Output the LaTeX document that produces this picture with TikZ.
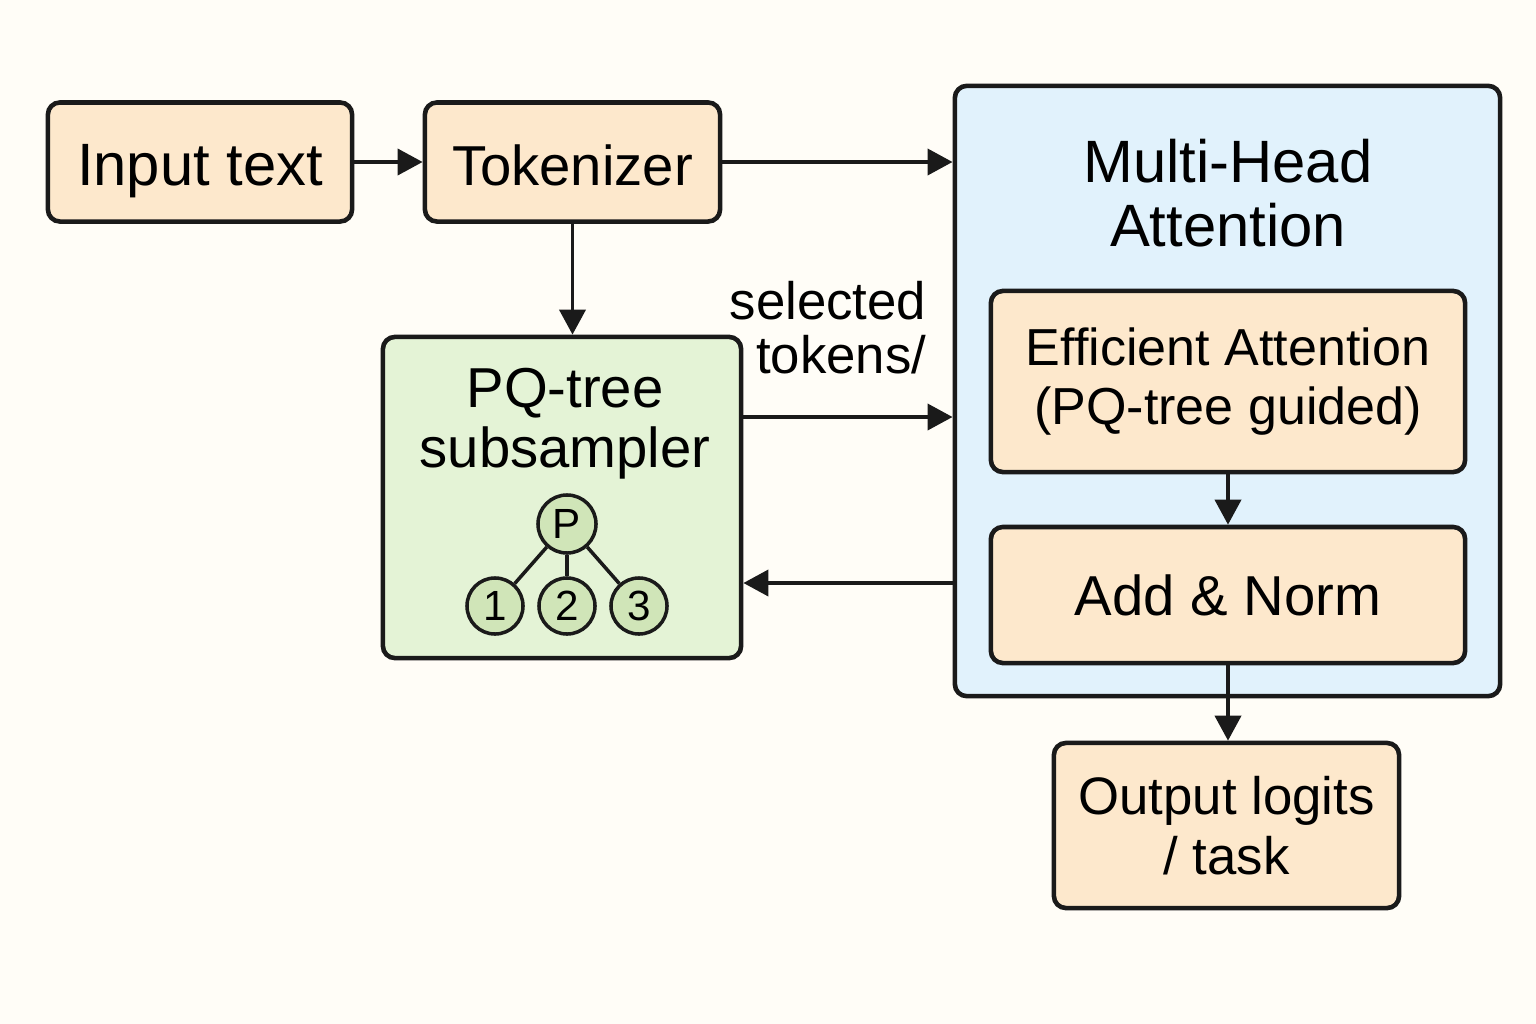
\documentclass[tikz,border=0pt]{standalone}
\usepackage{fontspec}
\setmainfont{Liberation Sans}
\usepackage{xcolor}
\usepackage{tikz}
\usetikzlibrary{arrows.meta, calc}
\definecolor{bgcream}{HTML}{FFFDF7}
\definecolor{boxorange}{HTML}{FDE8CC}
\definecolor{boxgreen}{HTML}{E4F3D6}
\definecolor{boxblue}{HTML}{E1F2FC}
\definecolor{nodegreen}{HTML}{D0E5B8}
\definecolor{ink}{HTML}{1A1A1A}

\begin{document}
\begin{tikzpicture}[x=0.01cm, y=-0.01cm,
        block/.style={draw=ink, line width=1.3pt, rounded corners=0.12cm, align=center, inner sep=0pt},
        orange/.style={block, fill=boxorange},
        oneline/.style={orange, text height=0.6cm, text depth=0.14cm},
        treenode/.style={circle, draw=ink, line width=1pt, fill=nodegreen, inner sep=0pt,
            minimum size=0.56cm, font=\fontsize{12}{13}\selectfont},
        flow/.style={draw=ink, line width=1.1pt, -{Triangle[length=0.25cm, width=0.26cm]}}]
    \fill[bgcream] (0,0) rectangle (1536,1024);
    \useasboundingbox (0,0) rectangle (1536,1024);
        \node[oneline, minimum width=3.04cm, minimum height=1.19cm, font=\fontsize{17}{19}\selectfont]
            (inp) at (200,162) {Input text};
        \node[oneline, minimum width=2.95cm, minimum height=1.19cm, font=\fontsize{16}{19}\selectfont]
            (tok) at (572.5,162) {Tokenizer};
        \node[block, fill=boxblue, minimum width=5.45cm, minimum height=6.10cm]
            (mha) at (1227.5,391) {};
        \node[align=center, font=\fontsize{17}{18.2}\selectfont] (mhatitle) at (1228,193) {Multi-Head\\Attention};
        \node[orange, minimum width=4.74cm, minimum height=1.81cm, font=\fontsize{14.8}{17}\selectfont]
            (eff) at (1228,381.5) {Efficient Attention\\(PQ-tree guided)};
        \node[orange, minimum width=4.74cm, minimum height=1.36cm, font=\fontsize{16}{18}\selectfont]
            (add) at (1228,595) {Add \& Norm};
        \node[orange, minimum width=3.45cm, minimum height=1.65cm, font=\fontsize{15}{17}\selectfont]
            (out) at (1226.5,825.5) {Output logits\\/ task};
        \node[block, fill=boxgreen, minimum width=3.58cm, minimum height=3.21cm]
            (pq) at (562,497.5) {};
        \node[align=center, font=\fontsize{16}{17}\selectfont] (pqtitle) at (565,424) {PQ-tree\\subsampler};
        % small tree inside the subsampler
        \node[treenode, minimum size=0.58cm] (P) at (567,524) {P};
        \foreach \k/\x in {1/495, 2/567, 3/639}
            \node[treenode] (c\k) at (\x,606) {\k};
        \foreach \k in {1,2,3}
            \draw[ink, line width=1pt] (P) -- (c\k);
        % connectors
        \draw[flow] (inp.east) -- (tok.west);
        \draw[flow] (tok.east) -- (tok.east -| mha.west);
        \draw[flow] (tok.south) -- (tok.south |- pq.north);
        \coordinate (sel) at ($(pq.east)+(0,-80.5)$);
        \draw[flow] (sel) -- (sel -| mha.west);
        \node[align=right, font=\fontsize{15}{15.4}\selectfont] (sellabel) at (828,328) {selected\\tokens/};
        \coordinate (fb) at ($(mha.west)+(0,192)$);
        \draw[flow] (fb) -- (fb -| pq.east);
        \draw[flow] (eff.south) -- (eff.south |- add.north);
        \draw[flow] (add.south) -- (add.south |- out.north);
\end{tikzpicture}
\end{document}
